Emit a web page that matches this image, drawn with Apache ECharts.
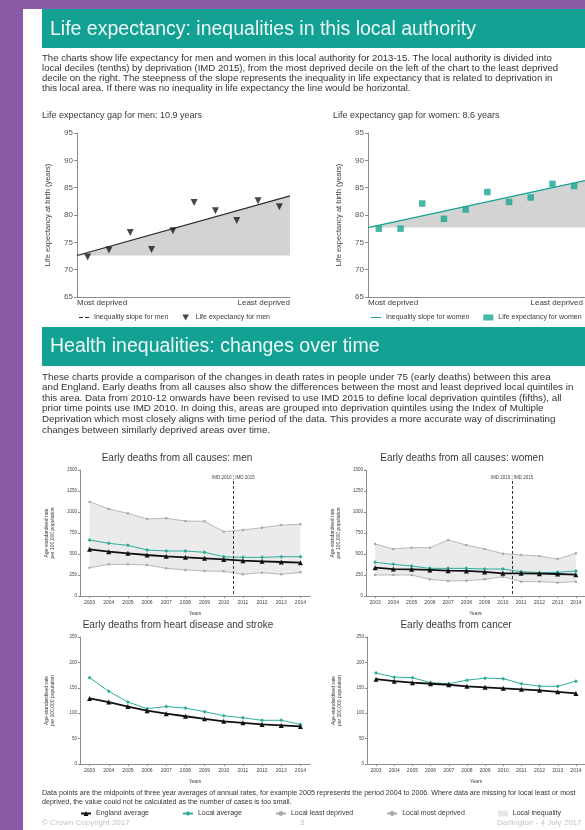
<!DOCTYPE html>
<html>
<head>
<meta charset="utf-8">
<script src="https://cdn.jsdelivr.net/npm/echarts@6/dist/echarts.min.js"></script>
<style>
  html, body { margin: 0; padding: 0; background: #8a5aa7; }
  #page { width: 585px; height: 830px; }
</style>
</head>
<body>
<div id="page"></div>
<script>
// ---- life expectancy by decile (most -> least deprived) ----
const deciles = ['1', '2', '3', '4', '5', '6', '7', '8', '9', '10'];
const menLE = [72.3, 73.6, 76.8, 73.7, 77.1, 82.3, 80.8, 79.0, 82.6, 81.5];
const womenLE = [77.5, 77.5, 82.1, 79.3, 81.0, 84.2, 82.4, 83.2, 85.7, 85.3];
const menSlope = [72.6, 83.5];
const womenSlope = [77.7, 86.3];

// ---- early deaths, age-standardised rate per 100,000 ----
const years = ['2003', '2004', '2005', '2006', '2007', '2008', '2009', '2010', '2011', '2012', '2013', '2014'];
const menAllEngland = [556, 528, 508, 488, 472, 460, 448, 436, 421, 413, 405, 397];
const menAllLocal = [667, 627, 603, 548, 536, 536, 520, 468, 460, 460, 468, 468];
const menAllMost = [1123, 1036, 984, 917, 925, 893, 889, 766, 786, 813, 845, 853];
const menAllLeast = [337, 377, 377, 369, 329, 310, 298, 294, 258, 278, 258, 282];

const womenAllEngland = [337, 321, 317, 310, 302, 298, 286, 270, 270, 266, 262, 254];
const womenAllLocal = [401, 377, 357, 329, 329, 329, 321, 321, 290, 278, 282, 298];
const womenAllMost = [619, 560, 575, 575, 667, 607, 560, 504, 488, 476, 440, 508];
const womenAllLeast = [250, 250, 250, 198, 179, 183, 198, 230, 171, 171, 159, 171];

const heartEngland = [129, 122, 113, 105, 99, 94, 89, 84, 81, 78, 76, 74];
const heartLocal = [170, 143, 122, 109, 113, 110, 103, 95, 91, 86, 86, 78];

const cancerEngland = [167, 163, 160, 158, 156, 153, 151, 149, 147, 145, 142, 139];
const cancerLocal = [179, 171, 170, 160, 158, 165, 169, 168, 158, 153, 153, 163];

const imdSplit = 8; // boundary between 2010 and 2011 columns

const FONT = '"Liberation Sans", Arial, sans-serif';
const TEAL = '#13a193';
const TEXT = '#3a3a3a';

const para1 = [
  'The charts show life expectancy for men and women in this local authority for 2013-15. The local authority is divided into',
  'local deciles (tenths) by deprivation (IMD 2015), from the most deprived decile on the left of the chart to the least deprived',
  'decile on the right. The steepness of the slope represents the inequality in life expectancy that is related to deprivation in',
  'this local area. If there was no inequality in life expectancy the line would be horizontal.'
].join('\n');

const para2 = [
  'These charts provide a comparison of the changes in death rates in people under 75 (early deaths) between this area',
  'and England. Early deaths from all causes also show the differences between the most and least deprived local quintiles in',
  'this area. Data from 2010-12 onwards have been revised to use IMD 2015 to define local deprivation quintiles (fifths), all',
  'prior time points use IMD 2010. In doing this, areas are grouped into deprivation quintiles using the Index of Multiple',
  'Deprivation which most closely aligns with time period of the data. This provides a more accurate way of discriminating',
  'changes between similarly deprived areas over time.'
].join('\n');

const footnote = [
  'Data points are the midpoints of three year averages of annual rates, for example 2005 represents the period 2004 to 2006. Where data are missing for local least or most',
  'deprived, the value could not be calculated as the number of cases is too small.'
].join('\n');

const chart = echarts.init(document.getElementById('page'), null, { renderer: 'canvas' });

function txt(x, y, text, size, extra) {
  return {
    type: 'text', x, y, z: 10,
    style: Object.assign({ text, font: size + 'px ' + FONT, fill: TEXT, verticalAlign: 'middle' }, extra || {})
  };
}

// grids: 0 men LE, 1 women LE, 2 men all, 3 women all, 4 heart, 5 cancer
const grids = [
  { left: 77, top: 133, width: 213, height: 164 },
  { left: 368, top: 133, width: 217, height: 164 },
  { left: 80, top: 470, width: 230, height: 126 },
  { left: 366, top: 470, width: 230, height: 126 },
  { left: 80, top: 637, width: 230, height: 127 },
  { left: 367, top: 637, width: 230, height: 127 }
];

const axisGray = '#8c8c8c';

const xAxes = [];
const yAxes = [];

// life expectancy axes
[0, 1].forEach((g) => {
  xAxes.push({
    gridIndex: g, type: 'value', min: 0, max: 10,
    axisLine: { lineStyle: { color: axisGray } },
    axisTick: { show: false }, axisLabel: { show: false }, splitLine: { show: false }
  });
  yAxes.push({
    gridIndex: g, type: 'value', min: 65, max: 95, interval: 5,
    name: 'Life expectancy at birth (years)', nameLocation: 'middle', nameGap: 25,
    nameTextStyle: { fontSize: 7.5, color: TEXT, fontFamily: FONT },
    axisLine: { show: true, lineStyle: { color: axisGray } },
    axisTick: { show: true, length: 3, lineStyle: { color: axisGray } },
    axisLabel: { fontSize: 8, color: '#555', margin: 4, fontFamily: FONT },
    splitLine: { show: false }
  });
});

// early deaths axes (category for data, hidden value axis for IMD divider)
const rateMax = [1500, 1500, 250, 250];
const rateStep = [250, 250, 50, 50];
[2, 3, 4, 5].forEach((g, k) => {
  xAxes.push({
    gridIndex: g, type: 'category', data: years, boundaryGap: true,
    name: 'Years', nameLocation: 'middle', nameGap: 15,
    nameTextStyle: { fontSize: 5, color: TEXT, fontFamily: FONT },
    axisLine: { lineStyle: { color: axisGray } },
    axisTick: { show: true, length: 2, alignWithLabel: true, lineStyle: { color: axisGray } },
    axisLabel: { fontSize: 5, color: '#444', margin: 4, interval: 0, fontFamily: FONT }
  });
  yAxes.push({
    gridIndex: g, type: 'value', min: 0, max: rateMax[k], interval: rateStep[k],
    name: 'Age-standardised rate\nper 100,000 population', nameLocation: 'middle', nameGap: 24,
    nameTextStyle: { fontSize: 5, color: TEXT, lineHeight: 6, fontFamily: FONT },
    axisLine: { show: true, lineStyle: { color: axisGray } },
    axisTick: { show: true, length: 2, lineStyle: { color: axisGray } },
    axisLabel: { fontSize: 4.5, color: '#444', margin: 3, fontFamily: FONT, formatter: (v) => String(v) },
    splitLine: { show: false }
  });
});
// hidden value axes for the divider (index 6, 7 -> grids 2, 3)
[2, 3].forEach((g) => {
  xAxes.push({ gridIndex: g, type: 'value', min: 0, max: years.length, show: false });
});

const series = [];

function leSeries(g, slope, values, slopeName, pointName, slopeColor, symbol, color) {
  series.push({
    name: slopeName, type: 'line', xAxisIndex: g, yAxisIndex: g,
    data: [[0, slope[0]], [10, slope[1]]], symbol: 'none',
    lineStyle: { color: slopeColor, width: 1.2 },
    areaStyle: { origin: slope[0], color: '#d3d3d3', opacity: 1 },
    z: 2
  });
  series.push({
    name: pointName, type: 'scatter', xAxisIndex: g, yAxisIndex: g,
    data: values.map((v, i) => [i + 0.5, v]),
    symbol, symbolSize: symbol === 'triangle' ? 7 : 6.5, symbolRotate: symbol === 'triangle' ? 180 : 0,
    itemStyle: { color }, z: 3
  });
}
leSeries(0, menSlope, menLE, 'Inequality slope for men', 'Life expectancy for men', '#2b2b2b', 'triangle', '#1a1a1a');
leSeries(1, womenSlope, womenLE, 'Inequality slope for women', 'Life expectancy for women', TEAL, 'rect', '#1aa690');

function rateSeries(g, england, local, most, least) {
  if (most) {
    series.push({
      name: 'band-base', type: 'line', xAxisIndex: g, yAxisIndex: g, stack: 'band' + g,
      data: least, symbol: 'none', lineStyle: { opacity: 0 }, silent: true
    });
    series.push({
      name: 'Local inequality', type: 'line', xAxisIndex: g, yAxisIndex: g, stack: 'band' + g,
      data: most.map((v, i) => v - least[i]), symbol: 'none', lineStyle: { opacity: 0 },
      areaStyle: { color: '#ebebeb', opacity: 1 }, silent: true
    });
    series.push({
      name: 'Local most deprived', type: 'line', xAxisIndex: g, yAxisIndex: g, data: most,
      symbol: 'circle', symbolSize: 2.5, lineStyle: { color: '#a8a8a8', width: 0.8 },
      itemStyle: { color: '#a8a8a8' }
    });
    series.push({
      name: 'Local least deprived', type: 'line', xAxisIndex: g, yAxisIndex: g, data: least,
      symbol: 'circle', symbolSize: 2.5, lineStyle: { color: '#a8a8a8', width: 0.8 },
      itemStyle: { color: '#a8a8a8' }
    });
  }
  series.push({
    name: 'Local average', type: 'line', xAxisIndex: g, yAxisIndex: g, data: local,
    symbol: 'diamond', symbolSize: 4, lineStyle: { color: '#2fae98', width: 1 },
    itemStyle: { color: '#2fae98' }, z: 3
  });
  series.push({
    name: 'England average', type: 'line', xAxisIndex: g, yAxisIndex: g, data: england,
    symbol: 'triangle', symbolSize: 5, lineStyle: { color: '#111', width: 1.8 },
    itemStyle: { color: '#111' }, z: 4
  });
}
rateSeries(2, menAllEngland, menAllLocal, menAllMost, menAllLeast);
rateSeries(3, womenAllEngland, womenAllLocal, womenAllMost, womenAllLeast);
rateSeries(4, heartEngland, heartLocal);
rateSeries(5, cancerEngland, cancerLocal);

// IMD divider lines
[[6, 2], [7, 3]].forEach(([xi, yi]) => {
  series.push({
    name: 'imd', type: 'line', xAxisIndex: xi, yAxisIndex: yi, data: [], silent: true,
    markLine: {
      symbol: ['none', 'none'], silent: true,
      lineStyle: { color: '#333', type: [3, 2], width: 1 },
      label: { show: true, position: 'start', formatter: 'IMD 2010 \u00A6 IMD 2015', fontSize: 4.5, color: '#444', distance: 1 },
      data: [[{ coord: [imdSplit, 1370] }, { coord: [imdSplit, 0] }]]
    }
  });
});

const legendText = { fontSize: 7, color: TEXT, fontFamily: FONT };

chart.setOption({
  backgroundColor: '#8a5aa7',
  animation: false,
  grid: grids,
  xAxis: xAxes,
  yAxis: yAxes,
  legend: [
    {
      left: 74, top: 309, width: 400, itemWidth: 10, itemHeight: 6, itemGap: 14, textStyle: legendText,
      data: [
        { name: 'Inequality slope for men', icon: 'path://M0,0H4V1H0ZM6,0H10V1H6Z', itemStyle: { color: '#2b2b2b' } },
        { name: 'Life expectancy for men', icon: 'path://M0,0L10,0L5,9Z', itemStyle: { color: '#1a1a1a' } }
      ]
    },
    {
      left: 366, top: 309, width: 400, itemWidth: 10, itemHeight: 6, itemGap: 14, textStyle: legendText,
      data: [
        { name: 'Inequality slope for women', icon: 'path://M0,0H10V1H0Z', itemStyle: { color: TEAL } },
        { name: 'Life expectancy for women', icon: 'rect', itemStyle: { color: '#1aa690' } }
      ]
    },
    {
      left: 75, top: 805, width: 600, itemWidth: 10, itemHeight: 6, itemGap: 33, textStyle: legendText,
      data: [
        'England average', 'Local average', 'Local least deprived', 'Local most deprived',
        { name: 'Local inequality', icon: 'rect', itemStyle: { color: '#e6e6e6' } }
      ]
    }
  ],
  graphic: [
    // page and banners
    { type: 'rect', shape: { x: 23, y: 9, width: 600, height: 830 }, style: { fill: '#ffffff' }, z: -10 },
    { type: 'rect', shape: { x: 42, y: 9, width: 560, height: 39 }, style: { fill: TEAL }, z: -5 },
    { type: 'rect', shape: { x: 42, y: 327, width: 560, height: 39 }, style: { fill: TEAL }, z: -5 },
    txt(50, 30, 'Life expectancy: inequalities in this local authority', 19.5, { fill: '#eef8f6' }),
    txt(50, 347, 'Health inequalities: changes over time', 19.5, { fill: '#eef8f6' }),
    txt(42, 53, para1, 9.6, { verticalAlign: 'top', lineHeight: 10.2, fill: '#333' }),
    txt(42, 371.5, para2, 9.8, { verticalAlign: 'top', lineHeight: 10.6, fill: '#333' }),
    // life expectancy captions
    txt(42, 116, 'Life expectancy gap for men: 10.9 years', 9, {}),
    txt(333, 116, 'Life expectancy gap for women: 8.6 years', 9, {}),
    txt(77, 303, 'Most deprived', 8, {}),
    txt(290, 303, 'Least deprived', 8, { align: 'right' }),
    txt(368, 303, 'Most deprived', 8, {}),
    txt(583, 303, 'Least deprived', 8, { align: 'right' }),
    // early deaths titles
    txt(177, 458, 'Early deaths from all causes: men', 10, { align: 'center' }),
    txt(462, 458, 'Early deaths from all causes: women', 10, { align: 'center' }),
    txt(178, 625, 'Early deaths from heart disease and stroke', 10, { align: 'center' }),
    txt(456, 625, 'Early deaths from cancer', 10, { align: 'center' }),
    // footnote and footer
    txt(42, 788.5, footnote, 7.1, { verticalAlign: 'top', lineHeight: 9, fill: '#333' }),
    txt(42, 823, '\u00A9 Crown Copyright 2017', 8, { fill: '#c4c4c4' }),
    txt(300, 823, '3', 8, { fill: '#c4c4c4' }),
    txt(497, 823, 'Darlington - 4 July 2017', 8, { fill: '#c4c4c4' })
  ],
  series
});

window.addEventListener('resize', () => chart.resize());
</script>
</body>
</html>
